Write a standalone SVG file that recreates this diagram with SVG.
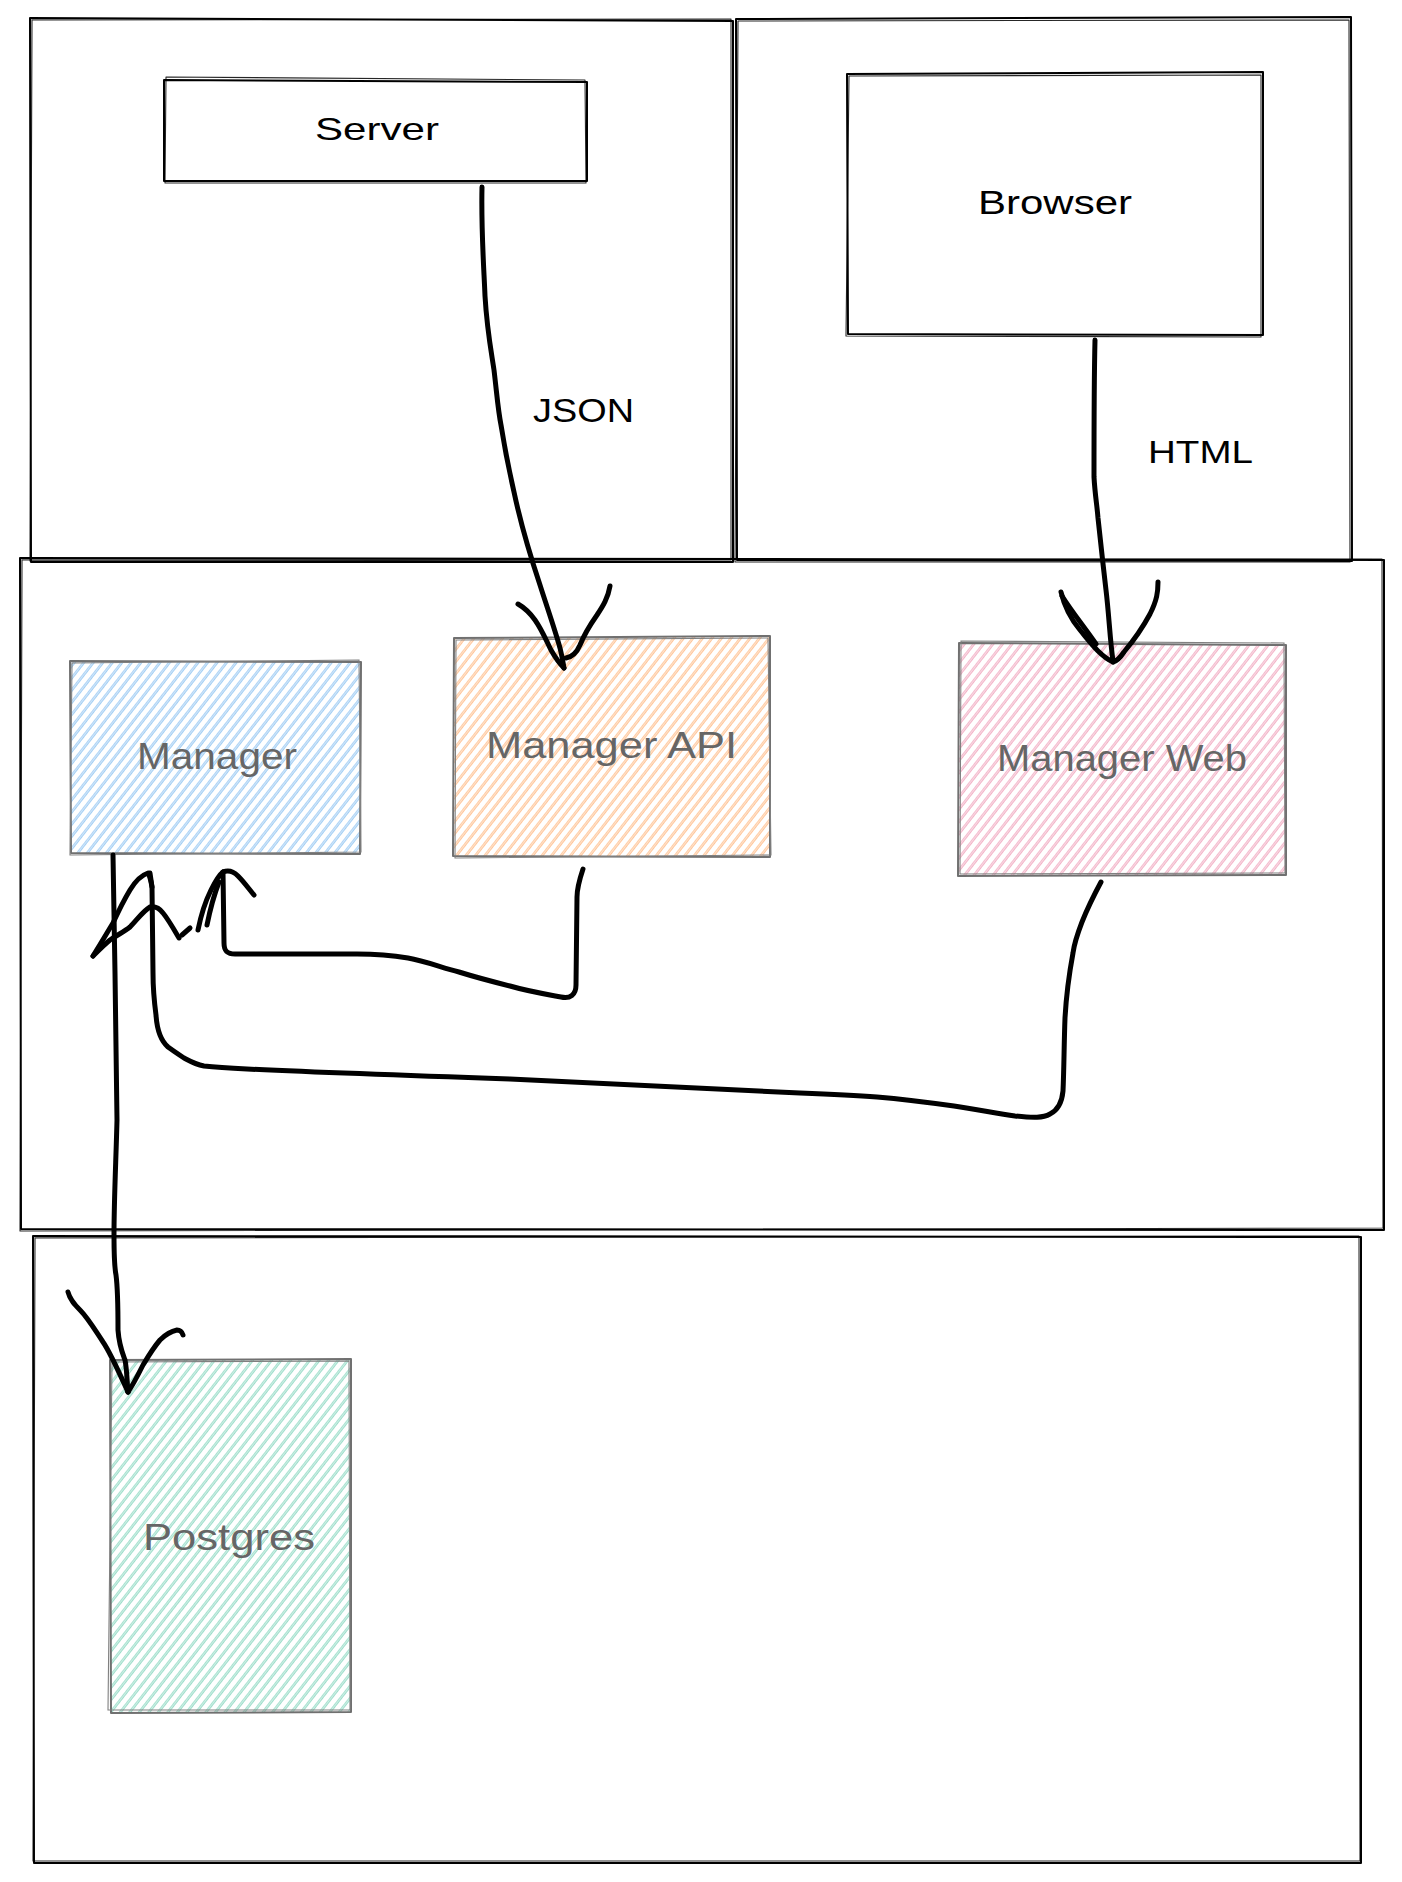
<svg xmlns="http://www.w3.org/2000/svg" width="1402" height="1882" viewBox="0 0 1402 1882">
<defs>
<style>
.frame{fill:none;stroke:#000;stroke-width:2;stroke-linejoin:round;stroke-linecap:round}
.frame2{fill:none;stroke:#000;stroke-width:1.1;stroke-linejoin:round;stroke-linecap:round;opacity:.85}
.nbox{stroke:#707070;stroke-width:2;stroke-linejoin:round}
.nbox2{fill:none;stroke:#808080;stroke-width:1.1}
.wire{fill:none;stroke:#000;stroke-width:5;stroke-linecap:round;stroke-linejoin:round}
.lbl{font-family:"Liberation Sans",Arial,sans-serif;fill:#000}
.nlbl{font-family:"Liberation Sans",Arial,sans-serif;fill:#666;font-size:36px}
</style>
<pattern id="hBlue" width="7.5" height="10" patternUnits="userSpaceOnUse" patternTransform="rotate(38)">
<line x1="0.8" y1="0" x2="0.8" y2="10" stroke="#8cc2f2" stroke-width="1"/>
<line x1="2.3" y1="0" x2="2.3" y2="10" stroke="#8cc2f2" stroke-width="0.8"/>
</pattern>
<pattern id="hOrange" width="7.5" height="10" patternUnits="userSpaceOnUse" patternTransform="rotate(38)">
<line x1="0.8" y1="0" x2="0.8" y2="10" stroke="#ffb780" stroke-width="1"/>
<line x1="2.3" y1="0" x2="2.3" y2="10" stroke="#ffb780" stroke-width="0.8"/>
</pattern>
<pattern id="hPink" width="7.5" height="10" patternUnits="userSpaceOnUse" patternTransform="rotate(38)">
<line x1="0.8" y1="0" x2="0.8" y2="10" stroke="#f0a0ba" stroke-width="1"/>
<line x1="2.3" y1="0" x2="2.3" y2="10" stroke="#f0a0ba" stroke-width="0.8"/>
</pattern>
<pattern id="hGreen" width="7.5" height="10" patternUnits="userSpaceOnUse" patternTransform="rotate(38)">
<line x1="0.8" y1="0" x2="0.8" y2="10" stroke="#84d6bd" stroke-width="1"/>
<line x1="2.3" y1="0" x2="2.3" y2="10" stroke="#84d6bd" stroke-width="0.8"/>
</pattern>
</defs>
<rect width="1402" height="1882" fill="#fff"/>

<g id="frames">
<g id="frame-server-side">
<path class="frame" d="M30,18 L733,21 L733,562 L31,562 Z"/>
<path class="frame2" d="M32,20 L731,19 L731,560 L30,561 Z"/>
</g>
<g id="frame-client-side">
<path class="frame" d="M736,19 L1351,17 L1352,561 L737,560 Z"/>
<path class="frame2" d="M738,21 L1349,20 L1350,562 L735,562 Z"/>
</g>
<g id="frame-app">
<path class="frame" d="M20,558 L1384,560 L1384,1230 L21,1229 Z"/>
<path class="frame2" d="M22,560 L1382,559 L1383,1228 L20,1231 Z"/>
</g>
<g id="frame-data">
<path class="frame" d="M33,1236 L1361,1237 L1361,1863 L34,1863 Z"/>
<path class="frame2" d="M35,1238 L1359,1236 L1360,1861 L33,1861 Z"/>
</g>
</g>

<g id="server">
<path class="frame" d="M164,80 L587,82 L587,181 L164,181 Z"/>
<path class="frame2" d="M166,77 L585,80 L586,183 L165,183 Z"/>
<text class="lbl" x="315" y="140" font-size="32" textLength="124" lengthAdjust="spacingAndGlyphs">Server</text>
</g>

<g id="browser">
<path class="frame" d="M847,74 L1263,72 L1263,335 L848,334 Z"/>
<path class="frame2" d="M849,76 L1261,75 L1261,337 L846,336 Z"/>
<text class="lbl" x="978" y="214" font-size="34" textLength="154" lengthAdjust="spacingAndGlyphs">Browser</text>
</g>

<g id="manager">
<path class="nbox" fill="url(#hBlue)" d="M70,661 L361,662 L360,854 L71,853 Z"/>
<path class="nbox2" d="M72,663 L359,660 L361,852 L70,855 Z"/>
<text class="nlbl" x="137" y="769" textLength="160" lengthAdjust="spacingAndGlyphs">Manager</text>
</g>

<g id="manager-api">
<path class="nbox" fill="url(#hOrange)" d="M454,638 L770,636 L770,857 L453,856 Z"/>
<path class="nbox2" d="M456,640 L768,638 L771,855 L455,858 Z"/>
<text class="nlbl" x="486" y="758" textLength="251" lengthAdjust="spacingAndGlyphs">Manager API</text>
</g>

<g id="manager-web">
<path class="nbox" fill="url(#hPink)" d="M959,643 L1286,645 L1286,875 L958,876 Z"/>
<path class="nbox2" d="M961,641 L1284,643 L1285,873 L960,874 Z"/>
<text class="nlbl" x="997" y="771" textLength="250" lengthAdjust="spacingAndGlyphs">Manager Web</text>
</g>

<g id="postgres">
<path class="nbox" fill="url(#hGreen)" d="M110,1360 L351,1359 L351,1712 L111,1713 Z"/>
<path class="nbox2" d="M112,1362 L349,1361 L350,1710 L108,1710 Z"/>
<text class="nlbl" x="143" y="1550" textLength="172" lengthAdjust="spacingAndGlyphs">Postgres</text>
</g>

<g id="connectors">
<g id="server-to-api">
<path class="wire" d="M482,187 C481,230 484,270 485,296 C487,330 491,350 494,370 C497,395 498,410 501,425 C505,450 509,470 514,492 C521,525 530,555 540,585 C548,610 555,630 560,648 C562,656 563,662 564,668"/>
<path class="wire" d="M518,604 C525,608 530,613 535,620 C542,630 546,640 551,650 C555,657 559,663 564,668"/>
<path class="wire" d="M610,586 C608,598 603,606 597,615 C590,625 584,635 580,645 C577,652 572,657 566,658"/>
<text class="lbl" x="533" y="422" font-size="34" textLength="101" lengthAdjust="spacingAndGlyphs">JSON</text>
</g>
<g id="browser-to-web">
<path class="wire" d="M1095,340 C1094,380 1094,440 1094,477 C1095,495 1097,505 1098,518 C1101,545 1103,565 1106,590 C1109,615 1110,640 1113,661"/>
<path class="wire" d="M1061,592 C1064,605 1070,618 1080,630 C1090,642 1100,656 1113,662"/>
<path class="wire" d="M1062,596 C1072,612 1085,628 1096,644"/>
<path class="wire" d="M1158,582 C1158,592 1157,600 1150,614 C1143,627 1134,640 1124,652 C1120,658 1117,661 1113,662"/>
<text class="lbl" x="1148" y="463" font-size="32" textLength="105" lengthAdjust="spacingAndGlyphs">HTML</text>
</g>
<g id="api-to-manager">
<path class="wire" d="M583,869 C580,878 577,887 577,897 L576,985 C576,995 570,999 561,997 C545,994 527,991 510,986 C490,981 475,977 459,972 C440,967 425,961 408,958 C390,955 375,954 357,954 L235,954 C227,954 224,951 224,943 L223,872"/>
<path class="wire" d="M198,930 C201,915 205,902 211,890 C215,882 219,875 223,872"/>
<path class="wire" d="M207,925 C210,910 214,895 219,882"/>
<path class="wire" d="M223,872 C228,870 233,871 238,876 C244,882 249,889 254,895"/>
</g>
<g id="web-to-manager">
<path class="wire" d="M1101,882 C1094,895 1088,907 1082,922 C1077,935 1074,945 1073,953 C1068,980 1066,1000 1065,1018 C1064,1045 1064,1070 1063,1091 C1062,1102 1058,1110 1050,1114 C1043,1118 1034,1118 1015,1116 C995,1113 975,1109 954,1106 C925,1102 900,1099 877,1097 C850,1095 825,1094 800,1093 C700,1088 600,1083 510,1079 C420,1076 330,1073 247,1069 C230,1068 215,1067 204,1066 C194,1064 188,1060 184,1058 C178,1054 172,1050 168,1047 C160,1040 157,1030 156,1015 C154,1000 153,985 153,973 L152,887 L150,873"/>
<path class="wire" d="M93,956 C100,945 107,933 113,923 C119,910 124,900 130,890 C136,880 142,875 148,873 C150,876 151,881 152,887"/>
<path class="wire" d="M93,956 C100,949 105,944 110,940 C117,935 124,932 130,927 C137,920 143,911 150,907 C156,906 160,909 163,913 C168,919 172,926 179,938"/>
<path class="wire" d="M182,935 L190,928"/>
</g>
<g id="manager-to-postgres">
<path class="wire" d="M113,855 L115,973 L117,1120 C116,1160 114,1200 114,1235 C114,1255 114,1265 116,1275 C118,1290 118,1310 118,1330 C119,1345 122,1352 125,1360 C127,1370 127,1382 128,1392"/>
<path class="wire" d="M68,1292 C70,1300 75,1305 80,1310 C88,1318 95,1330 103,1342 C110,1352 118,1370 128,1392"/>
<path class="wire" d="M128,1392 C133,1385 138,1375 143,1365 C149,1355 154,1347 160,1340 C166,1334 172,1331 177,1330 C180,1330 182,1332 183,1335"/>
</g>
</g>
</svg>
